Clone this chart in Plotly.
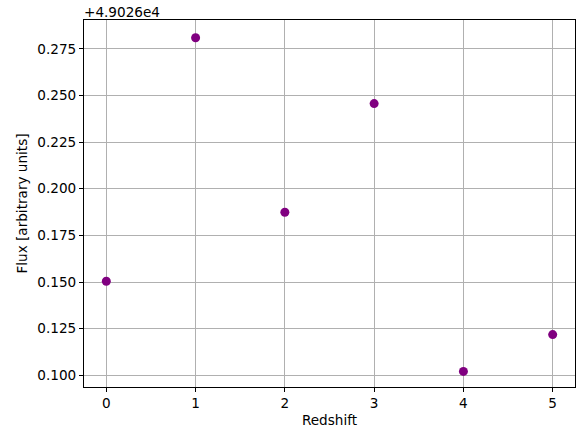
import plotly.graph_objects as go

redshift = [0, 1, 2, 3, 4, 5]
flux = [49026.1504, 49026.2809, 49026.1874, 49026.2456, 49026.1021, 49026.1218]
offset = 49026.0
y_ticks = [0.100, 0.125, 0.150, 0.175, 0.200, 0.225, 0.250, 0.275]
x_ticks = [0, 1, 2, 3, 4, 5]

y_plot = [f - offset for f in flux]

fig = go.Figure()
fig.add_trace(go.Scatter(
    x=redshift, y=y_plot, mode="markers",
    marker=dict(color="purple", size=9),
    showlegend=False,
))

font = dict(family="DejaVu Sans", size=13.6, color="black")
axis_common = dict(
    showgrid=True, gridcolor="#b0b0b0", gridwidth=1,
    showline=True, linecolor="black", linewidth=1, mirror=True,
    ticks="outside", ticklen=4, tickwidth=1, tickcolor="black",
    zeroline=False, tickfont=font, automargin=False,
)
fig.update_layout(
    width=577, height=432,
    margin=dict(l=84, r=2, t=20, b=45, autoexpand=False),
    plot_bgcolor="white", paper_bgcolor="white",
    font=font,
    xaxis=dict(range=[-0.25, 5.25], tickvals=x_ticks,
               title=dict(text="Redshift", font=font, standoff=5), **axis_common),
    yaxis=dict(range=[0.09373, 0.2904], tickvals=y_ticks,
               ticktext=[f"{v:.3f}" for v in y_ticks],
               title=dict(text="Flux [arbitrary units]", font=font, standoff=6), **axis_common),
    annotations=[dict(text="+4.9026e4", xref="paper", yref="paper", x=0, y=1,
                      xanchor="left", yanchor="bottom", showarrow=False,
                      font=font, xshift=-2, yshift=-2)],
)
fig.write_html("out.html", config={"displayModeBar": False},
               post_script="document.body.style.margin='0';document.body.style.overflow='hidden';")
